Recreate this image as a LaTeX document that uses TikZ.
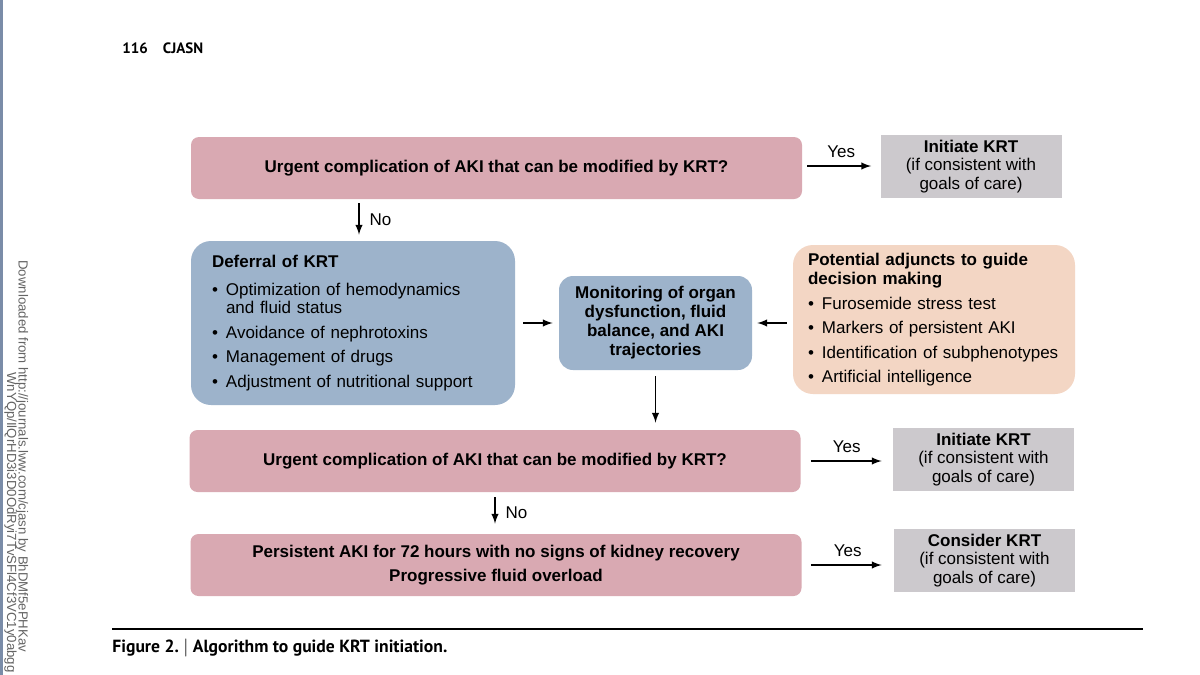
\documentclass[tikz,border=0pt]{standalone}
\usepackage{fontspec}
\setmainfont{Liberation Sans}
\newfontfamily\capfont{PT Sans}
\usetikzlibrary{calc}

\definecolor{pinkbox}{RGB}{217,169,178}
\definecolor{bluebox}{RGB}{157,179,203}
\definecolor{orangebox}{RGB}{243,214,196}
\definecolor{graybox}{RGB}{204,201,205}
\definecolor{edgeline}{RGB}{122,140,168}
\definecolor{margintext}{RGB}{100,100,100}

\newcommand{\flowsize}{\fontsize{8.5}{9.25}\selectfont}
\newlength{\bulw}
\setlength{\bulw}{7pt}
\newcommand{\bul}{\makebox[\bulw][l]{\textbullet}}

\tikzset{
  qbox/.style={fill=pinkbox, rounded corners=4pt, minimum width=305.5pt,
    minimum height=31pt, align=center, font=\flowsize\bfseries},
  krtbox/.style={fill=graybox, minimum width=90.5pt, minimum height=31.5pt,
    align=center, inner sep=0pt, font=\flowsize},
  listbox/.style={rounded corners=10pt, align=left, font=\flowsize},
  arr/.style={line width=0.7pt, -latex},
  lbl/.style={font=\flowsize, inner sep=1pt},
  margin/.style={rotate=-90, anchor=base west, inner sep=0pt, text=margintext,
    font=\fontsize{6.6}{8}\selectfont}
}

\begin{document}
\begin{tikzpicture}[x=0.5pt,y=-0.5pt]
  \useasboundingbox (0,0) rectangle (1200,675);
  \fill[white] (0,0) rectangle (1200,675);
  \clip (0,0) rectangle (1200,675);

  % page margin
  \fill[edgeline] (0,0) rectangle (2.5,675);
  \node[margin] (dl1) at (18.5,260)
    {Downloaded from http://journals.lww.com/cjasn by BhDMf5ePHKav};
  \node[margin] (dl2) at (7,372)
    {WnYQp/IlQrHD3i3D0OdRyi7TvSFl4Cf3VC1y0abgg};
  \node[anchor=base west, inner sep=0pt, font=\capfont\bfseries\fontsize{7.5}{8}\selectfont]
    (head) at (122,53) {116\quad CJASN};

  % first question
  \node[qbox] (urg1) at (496.5,168)
    {Urgent complication of AKI that can be modified by KRT?};
  \node[krtbox] (init1) at (971,166.5)
    {\textbf{Initiate KRT}\\(if consistent with\\goals of care)};

  % deferral and monitoring
  \node[listbox, fill=bluebox, minimum width=162pt, minimum height=82pt,
    text width=141pt, inner xsep=10.5pt] (defer) at (353,323)
    {\textbf{Deferral of KRT}\\[4.5pt]
     \bul Optimization of hemodynamics\\
     \hspace*{\bulw}and fluid status\\[3pt]
     \bul Avoidance of nephrotoxins\\[3pt]
     \bul Management of drugs\\[3pt]
     \bul Adjustment of nutritional support};
  \node[fill=bluebox, rounded corners=7pt, minimum width=96.5pt,
    minimum height=47pt, align=center, inner sep=0pt,
    font=\fontsize{8.5}{9.5}\selectfont\bfseries] (monit) at (655.5,323)
    {Monitoring of organ\\dysfunction, fluid\\balance, and AKI\\trajectories};
  \node[listbox, fill=orangebox, minimum width=141pt, minimum height=74.5pt,
    text width=126pt, inner xsep=7.5pt] (adj) at (934,319.5)
    {\textbf{Potential adjuncts to guide}\\[0.6pt]
     \textbf{decision making}\\[3pt]
     \bul Furosemide stress test\\[3pt]
     \bul Markers of persistent AKI\\[3pt]
     \bul Identification of subphenotypes\\[3pt]
     \bul Artificial intelligence};

  % second question
  \node[qbox] (urg2) at (495,461)
    {Urgent complication of AKI that can be modified by KRT?};
  \node[krtbox] (init2) at (983.5,459.5)
    {\textbf{Initiate KRT}\\(if consistent with\\goals of care)};
  \node[qbox] (pers) at (496,565)
    {Persistent AKI for 72 hours with no signs of kidney recovery\\[2.75pt]
     Progressive fluid overload};
  \node[krtbox] (cons) at (984.5,560.5)
    {\textbf{Consider KRT}\\(if consistent with\\goals of care)};

  \coordinate (no1) at (359,0);
  \coordinate (no2) at (495,0);

  \draw[arr, shorten <=2.5pt, shorten >=4.5pt] (urg1.east |- 0,166)
    -- (init1.west |- 0,166) node[midway, above=3pt, lbl] (yes1) {Yes};
  \draw[arr, shorten <=2pt, shorten >=3pt] (urg1.south -| no1)
    -- (defer.north -| no1) node[midway, right=4pt, lbl] (n1) {No};
  \draw[arr, shorten <=4pt, shorten >=3pt] (defer.east |- monit) -- (monit.west);
  \draw[arr, shorten <=3pt, shorten >=2.5pt] (adj.west |- monit) -- (monit.east);
  \draw[arr, shorten <=3pt, shorten >=3.5pt] (monit.south) -- (monit.south |- urg2.north);
  \draw[arr, shorten <=5pt, shorten >=5.5pt] (urg2.east)
    -- (urg2.east -| init2.west) node[midway, above=3pt, lbl] (yes2) {Yes};
  \draw[arr, shorten <=2.5pt, shorten >=5pt] (urg2.south -| no2)
    -- (pers.north -| no2) node[midway, right=4pt, lbl] (n2) {No};
  \draw[arr, shorten <=4.5pt, shorten >=6pt] (pers.east)
    -- (pers.east -| cons.west) node[midway, above=3pt, lbl] (yes3) {Yes};

  % caption
  \draw[line width=0.6pt] (112,629) -- (1143,629);
  \node[anchor=base west, inner sep=0pt, font=\capfont\bfseries\fontsize{8.8}{10}\selectfont]
    (capt) at (112,652) {Figure 2.\ $|$\ Algorithm to guide KRT initiation.};
\end{tikzpicture}
\end{document}
